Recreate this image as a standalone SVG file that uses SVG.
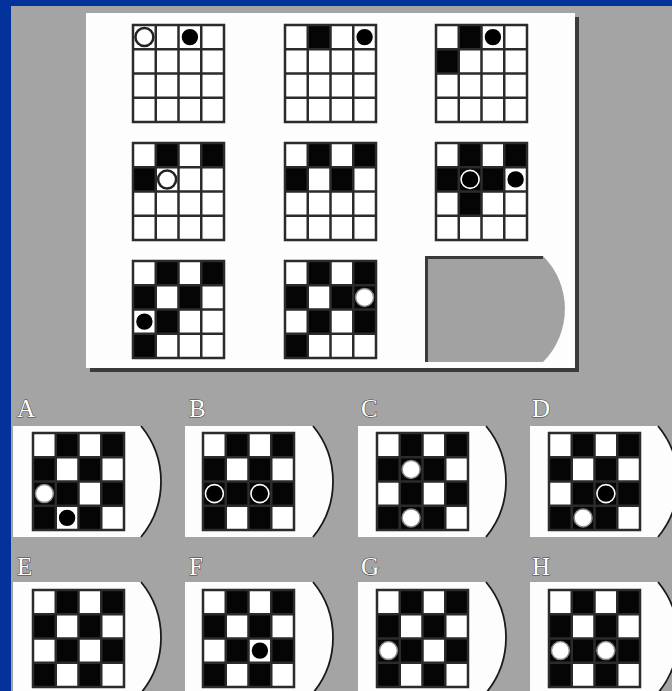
<svg xmlns="http://www.w3.org/2000/svg" xmlns:xlink="http://www.w3.org/1999/xlink" width="672" height="691" viewBox="0 0 672 691">
<style>
.gl{fill:none;stroke:#2b2b2b;stroke-width:2.5}
.bk{fill:#050505}
.wc{fill:#fff;stroke:#222;stroke-width:2.5}
.wo{fill:#fff;stroke:#8a8a8a;stroke-width:1.5}
.bc{fill:#000;stroke:#fff;stroke-width:1.6}
.card{fill:#fdfdfd}
.arc{fill:none;stroke:#1a1a1a;stroke-width:1.8}
.lbl{font-family:"Liberation Serif","Times New Roman",serif;font-size:25px;fill:#fff;stroke:#3c3c3c;stroke-width:1;paint-order:stroke}
</style>
<defs>
<path id="gl" class="gl" d="M0 0H91V97H0Z M22.75 0V97 M45.5 0V97 M68.25 0V97 M0 24.25H91 M0 48.5H91 M0 72.75H91"/>
<rect id="bg" width="91" height="97" fill="#fff"/>
<g id="chk" class="bk">
<rect x="22.75" y="0" width="22.75" height="24.25"/><rect x="68.25" y="0" width="22.75" height="24.25"/>
<rect x="0" y="24.25" width="22.75" height="24.25"/><rect x="45.5" y="24.25" width="22.75" height="24.25"/>
<rect x="22.75" y="48.5" width="22.75" height="24.25"/><rect x="68.25" y="48.5" width="22.75" height="24.25"/>
<rect x="0" y="72.75" width="22.75" height="24.25"/><rect x="45.5" y="72.75" width="22.75" height="24.25"/>
</g>
<path id="cardA" d="M0 0H128A87 87 0 0 1 128 111H0Z"/>
<path id="cardArc" d="M128 0A87 87 0 0 1 128 111"/>
</defs>

<rect width="672" height="691" fill="#a4a4a4"/>
<rect x="0" y="0" width="11" height="691" fill="#03329a"/>
<rect x="0" y="0" width="672" height="6" fill="#03329a"/>

<g id="panel">
<rect x="90" y="17" width="489" height="355" fill="#3a3a3a"/>
<rect x="86" y="13" width="489" height="355" fill="#fdfdfd"/>
</g>

<g id="g1" transform="translate(133,25)"><use href="#bg"/><circle class="wc" cx="11.4" cy="12.1" r="9"/><circle class="bc" cx="56.9" cy="12.1" r="9"/><use href="#gl"/></g>
<g id="g2" transform="translate(285,25)"><use href="#bg"/><rect class="bk" x="22.75" y="0" width="22.75" height="24.25"/><circle class="bc" cx="79.6" cy="12.1" r="9"/><use href="#gl"/></g>
<g id="g3" transform="translate(436,25)"><use href="#bg"/><rect class="bk" x="22.75" y="0" width="22.75" height="24.25"/><rect class="bk" x="0" y="24.25" width="22.75" height="24.25"/><circle class="bc" cx="56.9" cy="12.1" r="9"/><use href="#gl"/></g>

<g id="g4" transform="translate(133,143)"><use href="#bg"/><rect class="bk" x="22.75" y="0" width="22.75" height="24.25"/><rect class="bk" x="68.25" y="0" width="22.75" height="24.25"/><rect class="bk" x="0" y="24.25" width="22.75" height="24.25"/><circle class="wc" cx="34.1" cy="36.4" r="9"/><use href="#gl"/></g>
<g id="g5" transform="translate(285,143)"><use href="#bg"/><rect class="bk" x="22.75" y="0" width="22.75" height="24.25"/><rect class="bk" x="68.25" y="0" width="22.75" height="24.25"/><rect class="bk" x="0" y="24.25" width="22.75" height="24.25"/><rect class="bk" x="45.5" y="24.25" width="22.75" height="24.25"/><use href="#gl"/></g>
<g id="g6" transform="translate(436,143)"><use href="#bg"/><rect class="bk" x="22.75" y="0" width="22.75" height="24.25"/><rect class="bk" x="68.25" y="0" width="22.75" height="24.25"/><rect class="bk" x="0" y="24.25" width="22.75" height="24.25"/><rect class="bk" x="22.75" y="24.25" width="22.75" height="24.25"/><rect class="bk" x="45.5" y="24.25" width="22.75" height="24.25"/><rect class="bk" x="22.75" y="48.5" width="22.75" height="24.25"/><circle class="bc" cx="34.1" cy="36.4" r="9"/><circle class="bc" cx="79.6" cy="36.4" r="9"/><use href="#gl"/></g>

<g id="g7" transform="translate(133,261)"><use href="#bg"/><rect class="bk" x="22.75" y="0" width="22.75" height="24.25"/><rect class="bk" x="68.25" y="0" width="22.75" height="24.25"/><rect class="bk" x="0" y="24.25" width="22.75" height="24.25"/><rect class="bk" x="45.5" y="24.25" width="22.75" height="24.25"/><rect class="bk" x="22.75" y="48.5" width="22.75" height="24.25"/><rect class="bk" x="0" y="72.75" width="22.75" height="24.25"/><circle class="bc" cx="11.4" cy="60.6" r="9"/><use href="#gl"/></g>
<g id="g8" transform="translate(285,261)"><use href="#bg"/><rect class="bk" x="22.75" y="0" width="22.75" height="24.25"/><rect class="bk" x="68.25" y="0" width="22.75" height="24.25"/><rect class="bk" x="0" y="24.25" width="22.75" height="24.25"/><rect class="bk" x="45.5" y="24.25" width="22.75" height="24.25"/><rect class="bk" x="68.25" y="24.25" width="22.75" height="24.25"/><rect class="bk" x="22.75" y="48.5" width="22.75" height="24.25"/><rect class="bk" x="68.25" y="48.5" width="22.75" height="24.25"/><rect class="bk" x="0" y="72.75" width="22.75" height="24.25"/><circle class="wo" cx="79.6" cy="36.4" r="9"/><use href="#gl"/></g>

<g id="g9">
<path d="M425 256H543A75 75 0 0 1 543 362H425Z" fill="#a2a2a2"/>
<path d="M426.5 362V257.5H543" fill="none" stroke="#3a3a3a" stroke-width="3"/>
</g>

<g id="optA">
<text class="lbl" x="17" y="417">A</text>
<g transform="translate(13,426)"><use href="#cardA" class="card"/><use href="#cardArc" class="arc"/></g>
<g transform="translate(33,433)"><use href="#bg"/><use href="#chk"/><rect class="bk" x="0" y="48.5" width="22.75" height="24.25"/><circle class="wo" cx="11.4" cy="60.6" r="9"/><circle class="bc" cx="34.1" cy="84.9" r="9"/><use href="#gl"/></g>
</g>
<g id="optB">
<text class="lbl" x="189" y="417">B</text>
<g transform="translate(185,426)"><use href="#cardA" class="card"/><use href="#cardArc" class="arc"/></g>
<g transform="translate(203,433)"><use href="#bg"/><use href="#chk"/><rect class="bk" x="0" y="48.5" width="22.75" height="24.25"/><rect class="bk" x="45.5" y="48.5" width="22.75" height="24.25"/><circle class="bc" cx="11.4" cy="60.6" r="9"/><circle class="bc" cx="56.9" cy="60.6" r="9"/><use href="#gl"/></g>
</g>
<g id="optC">
<text class="lbl" x="361" y="417">C</text>
<g transform="translate(358,426)"><use href="#cardA" class="card"/><use href="#cardArc" class="arc"/></g>
<g transform="translate(377,433)"><use href="#bg"/><use href="#chk"/><rect class="bk" x="22.75" y="24.25" width="22.75" height="24.25"/><rect class="bk" x="22.75" y="72.75" width="22.75" height="24.25"/><circle class="wo" cx="34.1" cy="36.4" r="9"/><circle class="wo" cx="34.1" cy="84.9" r="9"/><use href="#gl"/></g>
</g>
<g id="optD">
<text class="lbl" x="532" y="417">D</text>
<g transform="translate(530,426)"><use href="#cardA" class="card"/><use href="#cardArc" class="arc"/></g>
<g transform="translate(549,433)"><use href="#bg"/><use href="#chk"/><rect class="bk" x="45.5" y="48.5" width="22.75" height="24.25"/><rect class="bk" x="22.75" y="72.75" width="22.75" height="24.25"/><circle class="bc" cx="56.9" cy="60.6" r="9"/><circle class="wo" cx="34.1" cy="84.9" r="9"/><use href="#gl"/></g>
</g>

<g id="optE">
<text class="lbl" x="17" y="575">E</text>
<g transform="translate(13,582)"><use href="#cardA" class="card"/><use href="#cardArc" class="arc"/></g>
<g transform="translate(33,590)"><use href="#bg"/><use href="#chk"/><use href="#gl"/></g>
</g>
<g id="optF">
<text class="lbl" x="189" y="575">F</text>
<g transform="translate(185,582)"><use href="#cardA" class="card"/><use href="#cardArc" class="arc"/></g>
<g transform="translate(203,590)"><use href="#bg"/><use href="#chk"/><circle class="bc" cx="56.9" cy="60.6" r="9"/><use href="#gl"/></g>
</g>
<g id="optG">
<text class="lbl" x="361" y="575">G</text>
<g transform="translate(358,582)"><use href="#cardA" class="card"/><use href="#cardArc" class="arc"/></g>
<g transform="translate(377,590)"><use href="#bg"/><use href="#chk"/><rect class="bk" x="0" y="48.5" width="22.75" height="24.25"/><circle class="wo" cx="11.4" cy="60.6" r="9"/><use href="#gl"/></g>
</g>
<g id="optH">
<text class="lbl" x="532" y="575">H</text>
<g transform="translate(530,582)"><use href="#cardA" class="card"/><use href="#cardArc" class="arc"/></g>
<g transform="translate(549,590)"><use href="#bg"/><use href="#chk"/><rect class="bk" x="0" y="48.5" width="22.75" height="24.25"/><rect class="bk" x="45.5" y="48.5" width="22.75" height="24.25"/><circle class="wo" cx="11.4" cy="60.6" r="9"/><circle class="wo" cx="56.9" cy="60.6" r="9"/><use href="#gl"/></g>
</g>

<g id="connectors"></g>
</svg>
